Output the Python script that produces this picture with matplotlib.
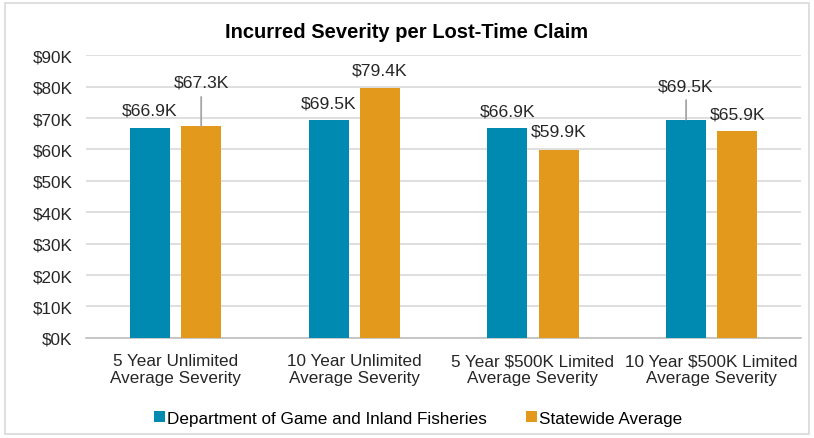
import numpy as np
import matplotlib.pyplot as plt
from matplotlib.patches import Rectangle

plt.rcParams['font.family'] = ['Liberation Sans', 'DejaVu Sans']

categories = ['5 Year Unlimited\nAverage Severity', '10 Year Unlimited\nAverage Severity',
              '5 Year $500K Limited\nAverage Severity', '10 Year $500K Limited\nAverage Severity']
dept = [66.9, 69.5, 66.9, 69.5]
state = [67.3, 79.4, 59.9, 65.9]
series_names = ['Department of Game and Inland Fisheries', 'Statewide Average']

teal = '#008AB2'
orange = '#E3991B'

# label lift above bar top in pixels, and whether a leader line is drawn
dept_lift = [18, 17, 17, 34]
dept_leader = [False, False, False, True]
state_lift = [44, 18, 19, 17]
state_leader = [True, False, False, False]

fig = plt.figure(figsize=(8.14, 4.39), dpi=100)
ax = fig.add_axes([0.106, 0.228, 0.878, 0.644])

x = np.arange(len(categories))
w = 0.224
off = 0.143
b1 = ax.bar(x - off, dept, w, color=teal, label=series_names[0], zorder=3)
b2 = ax.bar(x + off, state, w, color=orange, label=series_names[1], zorder=3)


def label_bars(bars, vals, lifts, leaders):
    for bar, v, dy, lead in zip(bars, vals, lifts, leaders):
        xc = bar.get_x() + bar.get_width() / 2
        arrow = dict(arrowstyle='-', color='#a6a6a6', lw=1.3, shrinkA=3, shrinkB=0) if lead else None
        ax.annotate('${:.1f}K'.format(v), xy=(xc, v), xytext=(0, dy),
                    textcoords='offset pixels', ha='center', va='center',
                    fontsize=12.6, color='#262626', arrowprops=arrow, zorder=4)


label_bars(b1, dept, dept_lift, dept_leader)
label_bars(b2, state, state_lift, state_leader)

ax.set_xlim(-0.5, len(categories) - 0.5)
ax.set_ylim(0, 90)
ax.set_yticks(np.arange(0, 91, 10))
ax.set_yticklabels(['${}K'.format(t) for t in range(0, 91, 10)])
ax.set_xticks(x)
ax.set_xticklabels(categories, linespacing=1.15)
ax.grid(axis='y', color='#d9d9d9', lw=1.2, zorder=0)
for s in ['top', 'right', 'left']:
    ax.spines[s].set_visible(False)
ax.spines['bottom'].set_color('#bfbfbf')
ax.spines['bottom'].set_linewidth(1.2)
ax.tick_params(axis='both', length=0, labelsize=12.3, colors='#262626')
ax.tick_params(axis='y', pad=10)
ax.tick_params(axis='x', pad=11)

fig.text(0.5, 0.925, 'Incurred Severity per Lost-Time Claim', ha='center', va='center',
         fontsize=14.5, fontweight='bold', color='#000000')

fig.legend(loc='center', bbox_to_anchor=(0.514, 0.045), ncol=2, frameon=False,
           fontsize=12.3, handlelength=0.6, handleheight=0.6, handletextpad=0.15,
           columnspacing=2.3)

fig.patches.append(Rectangle((0.006, 0.008), 0.988, 0.982, transform=fig.transFigure,
                             fill=False, edgecolor='#d9d9d9', lw=1.2))

fig.savefig('out.png', dpi=100)
